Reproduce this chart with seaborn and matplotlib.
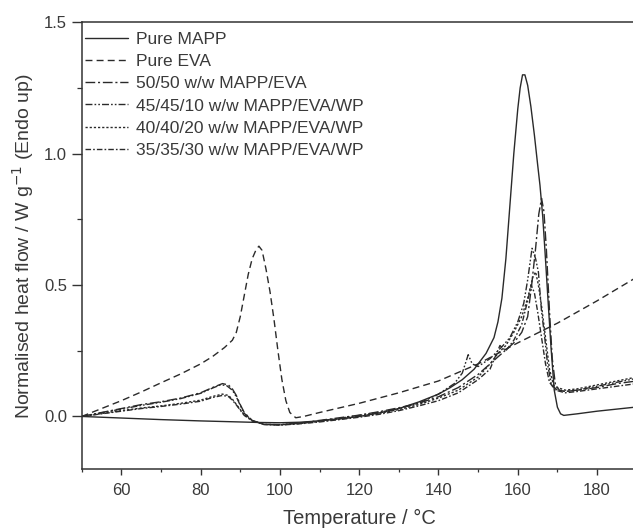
import numpy as np
import pandas as pd
import matplotlib
matplotlib.use("Agg")
import matplotlib.pyplot as plt
import seaborn as sns

# ---------------- data ----------------
labels = ["Pure MAPP", "Pure EVA", "50/50 w/w MAPP/EVA",
          "45/45/10 w/w MAPP/EVA/WP", "40/40/20 w/w MAPP/EVA/WP",
          "35/35/30 w/w MAPP/EVA/WP"]

mapp_T = [50, 60, 70, 80, 90, 95, 100, 105, 110, 115, 120, 125, 130, 135, 140,
          143, 146, 149, 152, 154, 155, 156, 157, 158, 159, 160, 160.6, 161.2,
          161.8, 162.5, 163.3, 164.2, 165, 165.6, 166.3, 166.9, 167.6, 168.4,
          169.2, 170, 170.8, 171.6, 175, 180, 185, 190]
mapp_H = [0.0, -0.006, -0.012, -0.017, -0.021, -0.023, -0.024, -0.022, -0.017,
          -0.009, 0.0, 0.013, 0.03, 0.055, 0.085, 0.11, 0.14, 0.18, 0.24, 0.3,
          0.36, 0.45, 0.6, 0.8, 1.0, 1.17, 1.25, 1.3, 1.3, 1.26, 1.18, 1.07,
          0.96, 0.88, 0.76, 0.62, 0.45, 0.26, 0.1, 0.035, 0.01, 0.004, 0.01,
          0.02, 0.028, 0.036]

eva_T = [50, 55, 60, 65, 70, 75, 80, 83, 86, 88, 89, 90, 91, 92, 93, 94, 94.7,
         95.5, 96.5, 97.5, 98.5, 99.5, 100.5, 101.5, 102.5, 104, 106, 110, 120,
         130, 140, 150, 160, 170, 180, 190]
eva_H = [0.0, 0.03, 0.06, 0.093, 0.128, 0.162, 0.2, 0.228, 0.262, 0.29, 0.32,
         0.38, 0.46, 0.54, 0.6, 0.635, 0.648, 0.632, 0.56, 0.475, 0.37, 0.25,
         0.14, 0.06, 0.015, -0.005, 0.0, 0.015, 0.05, 0.09, 0.135, 0.2, 0.28,
         0.355, 0.44, 0.53]

b5050_T = [50, 55, 60, 65, 70, 75, 80, 83, 85.5, 87, 88, 89, 90, 91, 93, 96,
           100, 105, 110, 115, 120, 125, 130, 135, 140, 145, 150, 153, 156, 159,
           161, 162.5, 163.5, 164.5, 165.3, 166, 166.6, 167.2, 168, 168.7,
           169.5, 170.5, 172, 175, 180, 185, 190]
b5050_H = [0.0, 0.015, 0.03, 0.045, 0.056, 0.07, 0.09, 0.11, 0.125, 0.12,
           0.105, 0.08, 0.045, 0.015, -0.015, -0.03, -0.032, -0.025, -0.015,
           -0.005, 0.005, 0.018, 0.033, 0.05, 0.075, 0.11, 0.16, 0.2, 0.24,
           0.28, 0.32, 0.38, 0.5, 0.64, 0.77, 0.83, 0.78, 0.64, 0.4, 0.22, 0.12,
           0.1, 0.095, 0.1, 0.11, 0.125, 0.135]

b4545_T = [50, 55, 60, 65, 70, 75, 80, 83, 85, 86.5, 88, 89, 90, 91, 93, 96,
           100, 105, 110, 115, 120, 125, 130, 135, 140, 144, 146, 147.5, 148.5,
           150, 153, 156, 158, 160, 161.5, 162.5, 163.6, 164.5, 165.2, 166,
           166.8, 167.5, 168.5, 170, 172, 175, 180, 185, 190]
b4545_H = [0.0, 0.014, 0.028, 0.042, 0.054, 0.068, 0.088, 0.108, 0.12, 0.118,
           0.1, 0.075, 0.042, 0.012, -0.016, -0.03, -0.031, -0.026, -0.017,
           -0.007, 0.004, 0.016, 0.03, 0.05, 0.085, 0.125, 0.165, 0.235, 0.2,
           0.19, 0.22, 0.265, 0.3, 0.36, 0.43, 0.52, 0.64, 0.6, 0.55, 0.4, 0.3,
           0.2, 0.12, 0.1, 0.095, 0.1, 0.115, 0.13, 0.145]

b4040_T = [50, 55, 60, 65, 70, 75, 80, 83, 85.5, 87, 88, 89, 90, 91, 93, 96,
           100, 105, 110, 115, 120, 125, 130, 135, 140, 145, 150, 153, 155, 157,
           159, 161, 162.5, 163.8, 164.5, 165.2, 166, 167, 168, 169, 170, 172,
           175, 180, 185, 190]
b4040_H = [0.0, 0.011, 0.022, 0.032, 0.04, 0.05, 0.062, 0.076, 0.085, 0.08,
           0.066, 0.046, 0.026, 0.006, -0.016, -0.03, -0.032, -0.027, -0.019,
           -0.01, 0.0, 0.012, 0.026, 0.045, 0.07, 0.1, 0.15, 0.2, 0.24, 0.27,
           0.32, 0.38, 0.45, 0.53, 0.55, 0.5, 0.42, 0.3, 0.18, 0.12, 0.11, 0.1,
           0.105, 0.12, 0.135, 0.15]

b3535_T = [50, 55, 60, 65, 70, 75, 80, 83, 85.5, 87, 88, 89, 90, 91, 93, 96,
           100, 105, 110, 115, 120, 125, 130, 135, 140, 145, 150, 153, 155.5,
           157, 159, 161, 162.5, 163.4, 164.2, 165, 166, 167, 168, 169.5, 172,
           175, 180, 185, 190]
b3535_H = [0.0, 0.01, 0.02, 0.03, 0.038, 0.047, 0.058, 0.072, 0.08, 0.076,
           0.062, 0.044, 0.024, 0.004, -0.017, -0.031, -0.033, -0.028, -0.021,
           -0.012, -0.003, 0.008, 0.022, 0.04, 0.06, 0.09, 0.14, 0.18, 0.27,
           0.25, 0.29, 0.35, 0.44, 0.5, 0.47, 0.4, 0.3, 0.2, 0.13, 0.1, 0.09,
           0.095, 0.105, 0.115, 0.125]

series_T = [mapp_T, eva_T, b5050_T, b4545_T, b4040_T, b3535_T]
series_H = [mapp_H, eva_H, b5050_H, b4545_H, b4040_H, b3535_H]

x_ticks = [60, 80, 100, 120, 140, 160, 180]
y_ticks = [0.0, 0.5, 1.0, 1.5]

# ---------------- build long table ----------------
frames = []
for lab, T, H in zip(labels, series_T, series_H):
    frames.append(pd.DataFrame({"T": T, "H": H, "series": lab}))
df = pd.concat(frames, ignore_index=True)

dashes = {
    labels[0]: "",
    labels[1]: (5, 3),
    labels[2]: (7, 2, 1.5, 2),
    labels[3]: (5, 1.5, 1.2, 1.5, 1.2, 1.5),
    labels[4]: (1.6, 1.4),
    labels[5]: (4, 1.5, 1.2, 1.5),
}

sns.set_style("ticks")
plt.rcParams["font.family"] = ["Liberation Sans", "DejaVu Sans"]

fig = plt.figure(figsize=(6.33, 5.30), dpi=100)
ax = fig.add_axes([81.7 / 633, 1 - 469 / 530, (636.7 - 81.7) / 633,
                   (469 - 22.3) / 530])

line_col = "#2a2a2a"
sns.lineplot(data=df, x="T", y="H", hue="series", style="series",
             hue_order=labels, style_order=labels,
             palette=[line_col] * len(labels), dashes=dashes,
             estimator=None, sort=False, linewidth=1.0, ax=ax)

ax.set_xticks(x_ticks)
ax.set_yticks(y_ticks)
ax.set_yticklabels([f"{v:.1f}" for v in y_ticks])
ax.set_xticks(np.arange(50, 191, 10), minor=True)
ax.set_yticks(np.arange(-0.25, 1.51, 0.25), minor=True)
ax.set_xlim(50, 190)
ax.set_ylim(-0.2, 1.5)

txt_col = "#3a3a3a"
tick_col = "#333333"
ax.tick_params(axis="x", which="major", direction="out", length=4.5,
               width=1.0, pad=5.5, labelsize=12, colors=tick_col,
               labelcolor=txt_col)
ax.tick_params(axis="y", which="major", direction="out", length=7,
               width=1.0, pad=3.5, labelsize=12, colors=tick_col,
               labelcolor=txt_col)
ax.tick_params(axis="x", which="minor", direction="out", length=2.5,
               width=0.9, colors=tick_col)
ax.tick_params(axis="y", which="minor", direction="out", length=3.5,
               width=0.9, colors=tick_col)
for s in ax.spines.values():
    s.set_color(tick_col)
    s.set_linewidth(1.1)

ax.set_xlabel("Temperature / °C", fontsize=14.5, color=txt_col, labelpad=8)
ax.set_ylabel("Normalised heat flow / W g$^{-1}$ (Endo up)", fontsize=14,
              color=txt_col, labelpad=6)

handles, labs = ax.get_legend_handles_labels()
leg = ax.legend(handles, labs, loc="upper left", frameon=False,
                bbox_to_anchor=(0.006, 0.978), borderaxespad=0, borderpad=0,
                handlelength=2.5, handletextpad=0.45, labelspacing=0.4,
                fontsize=12.5)
for t in leg.get_texts():
    t.set_color(txt_col)

fig.savefig("out.png", dpi=100)
